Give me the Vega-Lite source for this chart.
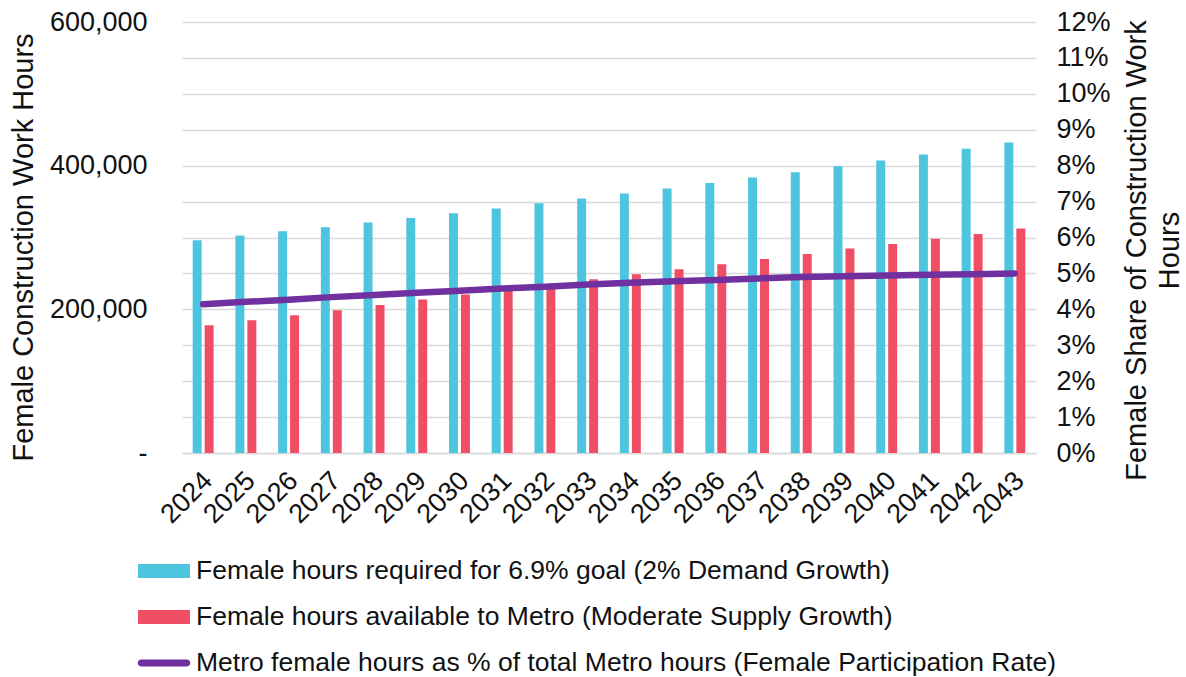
{
  "$schema": "https://vega.github.io/schema/vega-lite/v6.json",
  "width": 854,
  "height": 431,
  "autosize": {"type": "none"},
  "padding": {"left": 182, "top": 22, "right": 150, "bottom": 224},
  "background": "#ffffff",
  "config": {
    "font": "Liberation Sans",
    "view": {"stroke": null},
    "axis": {"labelFont": "Liberation Sans", "titleFont": "Liberation Sans", "labelColor": "#111111", "titleColor": "#111111", "titleFontWeight": "normal"}
  },
  "datasets": {
    "bars": [
      {"year": "2024", "series": "Female hours required for 6.9% goal (2% Demand Growth)", "hours": 296200},
      {"year": "2025", "series": "Female hours required for 6.9% goal (2% Demand Growth)", "hours": 302800},
      {"year": "2026", "series": "Female hours required for 6.9% goal (2% Demand Growth)", "hours": 308800},
      {"year": "2027", "series": "Female hours required for 6.9% goal (2% Demand Growth)", "hours": 314300},
      {"year": "2028", "series": "Female hours required for 6.9% goal (2% Demand Growth)", "hours": 320900},
      {"year": "2029", "series": "Female hours required for 6.9% goal (2% Demand Growth)", "hours": 327300},
      {"year": "2030", "series": "Female hours required for 6.9% goal (2% Demand Growth)", "hours": 333900},
      {"year": "2031", "series": "Female hours required for 6.9% goal (2% Demand Growth)", "hours": 340400},
      {"year": "2032", "series": "Female hours required for 6.9% goal (2% Demand Growth)", "hours": 347800},
      {"year": "2033", "series": "Female hours required for 6.9% goal (2% Demand Growth)", "hours": 354300},
      {"year": "2034", "series": "Female hours required for 6.9% goal (2% Demand Growth)", "hours": 361300},
      {"year": "2035", "series": "Female hours required for 6.9% goal (2% Demand Growth)", "hours": 368200},
      {"year": "2036", "series": "Female hours required for 6.9% goal (2% Demand Growth)", "hours": 376000},
      {"year": "2037", "series": "Female hours required for 6.9% goal (2% Demand Growth)", "hours": 383500},
      {"year": "2038", "series": "Female hours required for 6.9% goal (2% Demand Growth)", "hours": 391000},
      {"year": "2039", "series": "Female hours required for 6.9% goal (2% Demand Growth)", "hours": 399300},
      {"year": "2040", "series": "Female hours required for 6.9% goal (2% Demand Growth)", "hours": 407200},
      {"year": "2041", "series": "Female hours required for 6.9% goal (2% Demand Growth)", "hours": 415600},
      {"year": "2042", "series": "Female hours required for 6.9% goal (2% Demand Growth)", "hours": 423400},
      {"year": "2043", "series": "Female hours required for 6.9% goal (2% Demand Growth)", "hours": 432300},
      {"year": "2024", "series": "Female hours available to Metro (Moderate Supply Growth)", "hours": 177900},
      {"year": "2025", "series": "Female hours available to Metro (Moderate Supply Growth)", "hours": 184800},
      {"year": "2026", "series": "Female hours available to Metro (Moderate Supply Growth)", "hours": 191800},
      {"year": "2027", "series": "Female hours available to Metro (Moderate Supply Growth)", "hours": 198700},
      {"year": "2028", "series": "Female hours available to Metro (Moderate Supply Growth)", "hours": 206100},
      {"year": "2029", "series": "Female hours available to Metro (Moderate Supply Growth)", "hours": 213600},
      {"year": "2030", "series": "Female hours available to Metro (Moderate Supply Growth)", "hours": 220600},
      {"year": "2031", "series": "Female hours available to Metro (Moderate Supply Growth)", "hours": 227600},
      {"year": "2032", "series": "Female hours available to Metro (Moderate Supply Growth)", "hours": 234700},
      {"year": "2033", "series": "Female hours available to Metro (Moderate Supply Growth)", "hours": 241900},
      {"year": "2034", "series": "Female hours available to Metro (Moderate Supply Growth)", "hours": 248900},
      {"year": "2035", "series": "Female hours available to Metro (Moderate Supply Growth)", "hours": 255900},
      {"year": "2036", "series": "Female hours available to Metro (Moderate Supply Growth)", "hours": 262800},
      {"year": "2037", "series": "Female hours available to Metro (Moderate Supply Growth)", "hours": 270200},
      {"year": "2038", "series": "Female hours available to Metro (Moderate Supply Growth)", "hours": 277200},
      {"year": "2039", "series": "Female hours available to Metro (Moderate Supply Growth)", "hours": 284700},
      {"year": "2040", "series": "Female hours available to Metro (Moderate Supply Growth)", "hours": 291100},
      {"year": "2041", "series": "Female hours available to Metro (Moderate Supply Growth)", "hours": 298100},
      {"year": "2042", "series": "Female hours available to Metro (Moderate Supply Growth)", "hours": 305000},
      {"year": "2043", "series": "Female hours available to Metro (Moderate Supply Growth)", "hours": 312500}
    ],
    "share": [
      {"year": "2024", "share": 0.0414},
      {"year": "2025", "share": 0.0421},
      {"year": "2026", "share": 0.0427},
      {"year": "2027", "share": 0.0434},
      {"year": "2028", "share": 0.0440},
      {"year": "2029", "share": 0.0446},
      {"year": "2030", "share": 0.0452},
      {"year": "2031", "share": 0.0458},
      {"year": "2032", "share": 0.0463},
      {"year": "2033", "share": 0.0469},
      {"year": "2034", "share": 0.0474},
      {"year": "2035", "share": 0.0478},
      {"year": "2036", "share": 0.0482},
      {"year": "2037", "share": 0.0486},
      {"year": "2038", "share": 0.0490},
      {"year": "2039", "share": 0.0492},
      {"year": "2040", "share": 0.0494},
      {"year": "2041", "share": 0.0496},
      {"year": "2042", "share": 0.0498},
      {"year": "2043", "share": 0.0500}
    ]
  },
  "encoding": {
    "x": {
      "field": "year",
      "type": "nominal",
      "sort": null,
      "scale": {"paddingInner": 0.51, "paddingOuter": 0.25},
      "axis": {
        "title": null,
        "labelAngle": -45,
        "labelFontSize": 27,
        "labelPadding": 14,
        "labelOffset": -4,
        "ticks": false,
        "domainColor": "#d9d9d9",
        "domainWidth": 1.5,
        "grid": false
      }
    }
  },
  "layer": [
    {
      "data": {"name": "bars"},
      "mark": {"type": "bar"},
      "encoding": {
        "xOffset": {
          "field": "series",
          "type": "nominal",
          "sort": ["Female hours required for 6.9% goal (2% Demand Growth)", "Female hours available to Metro (Moderate Supply Growth)"],
          "scale": {"paddingInner": 0.25, "paddingOuter": 0}
        },
        "y": {
          "field": "hours",
          "type": "quantitative",
          "scale": {"domain": [0, 600000], "nice": false},
          "axis": {
            "orient": "left",
            "title": "Female Construction Work Hours",
            "titleFontSize": 29,
            "titleAngle": 270,
            "titleBaseline": "alphabetic",
            "titleX": -150,
            "titleY": 225,
            "values": [0, 50000, 100000, 150000, 200000, 250000, 300000, 350000, 400000, 450000, 500000, 550000, 600000],
            "labelExpr": "datum.value == 0 ? '-' : (datum.value % 200000 == 0 ? format(datum.value, ',') : '')",
            "labelFontSize": 27,
            "labelPadding": 35,
            "ticks": false,
            "domain": false,
            "grid": true,
            "gridColor": "#d9d9d9",
            "gridWidth": 1.4
          }
        },
        "color": {
          "field": "series",
          "type": "nominal",
          "scale": {
            "domain": ["Female hours required for 6.9% goal (2% Demand Growth)", "Female hours available to Metro (Moderate Supply Growth)", "Metro female hours as % of total Metro hours (Female Participation Rate)"],
            "range": ["#4EC5DF", "#F04E65", "#7030A0"]
          },
          "legend": {
            "title": null,
            "orient": "none",
            "direction": "vertical",
            "legendX": -44,
            "legendY": 523,
            "labelFontSize": 26.5,
            "labelFont": "Liberation Sans",
            "labelColor": "#111111",
            "labelLimit": 1000,
            "labelOffset": 6,
            "rowPadding": 6,
            "symbolSize": 2704,
            "symbolStrokeWidth": 0,
            "encode": {
              "symbols": {
                "update": {
                  "shape": {"signal": "indexof(datum.value, 'Metro female') == 0 ? 'M-0.88,-0.13H0.88A0.13,0.13 0 0 1 0.88,0.13H-0.88A0.13,0.13 0 0 1 -0.88,-0.13Z' : 'M-1,-0.27H1V0.27H-1Z'"},
                  "fill": {"scale": "color", "field": "value"},
                  "fillOpacity": {"value": 1},
                  "strokeWidth": {"value": 0}
                }
              }
            }
          }
        }
      }
    },
    {
      "data": {"name": "share"},
      "mark": {"type": "line", "strokeWidth": 6.5, "strokeCap": "round", "strokeJoin": "round"},
      "encoding": {
        "y": {
          "field": "share",
          "type": "quantitative",
          "scale": {"domain": [0, 0.12], "nice": false},
          "axis": {
            "orient": "right",
            "title": ["Female Share of Construction Work", "Hours"],
            "titleFontSize": 29,
            "titleAngle": 270,
            "titleBaseline": "alphabetic",
            "titleLineHeight": 33,
            "titleX": 109,
            "titleY": 228,
            "values": [0, 0.01, 0.02, 0.03, 0.04, 0.05, 0.06, 0.07, 0.08, 0.09, 0.10, 0.11, 0.12],
            "format": ".0%",
            "labelFontSize": 27,
            "labelPadding": 20,
            "ticks": false,
            "domain": false,
            "grid": false
          }
        },
        "color": {"datum": "Metro female hours as % of total Metro hours (Female Participation Rate)", "type": "nominal"}
      }
    }
  ],
  "resolve": {"scale": {"y": "independent"}}
}
